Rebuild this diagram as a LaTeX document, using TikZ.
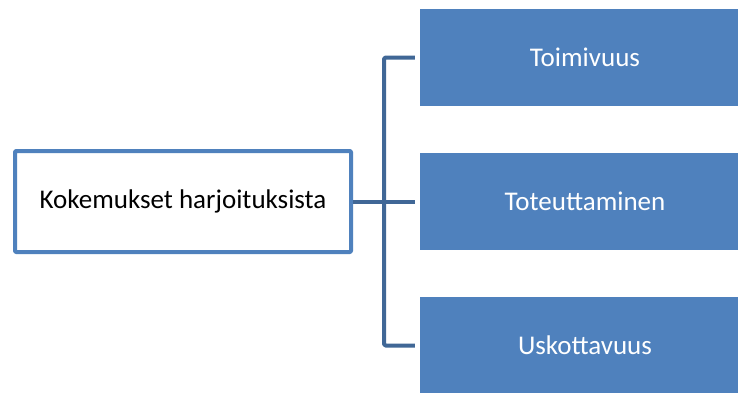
\documentclass[tikz,border=0pt]{standalone}
\usepackage{fontspec}
\setmainfont{Carlito}
\definecolor{boxblue}{RGB}{79,129,189}
\definecolor{lineblue}{RGB}{64,103,150}
\tikzset{
	srcbox/.style={draw=boxblue, line width=4pt, fill=white, rounded corners=1pt, minimum width=336pt, minimum height=101pt, inner sep=0pt},
	itembox/.style={fill=boxblue, text=white, minimum width=330pt, minimum height=97pt, inner sep=0pt},
	conn/.style={draw=lineblue, line width=4pt, rounded corners=1.5pt}
}
\begin{document}
\begin{tikzpicture}[x=1pt, y=-1pt, font=\fontsize{27}{31}\selectfont, line join=round]
	\clip (0,0) rectangle (738,392);
	\fill[white] (0,0) rectangle (738,392);
	\node[srcbox] (kok) at (183,201.5) {Kokemukset harjoituksista};
	\node[itembox] (toi) at (585,57.5) {Toimivuus};
	\node[itembox] (tot) at (585,201.5) {Toteuttaminen};
	\node[itembox] (usk) at (585,345.5) {Uskottavuus};
	\coordinate (jn) at (384,201.5);
	\draw[conn] (kok.east) -- ([xshift=-5pt]tot.west);
	\foreach \b in {toi,usk}\draw[conn] (jn) |- ([xshift=-5pt]\b.west);
\end{tikzpicture}
\end{document}
